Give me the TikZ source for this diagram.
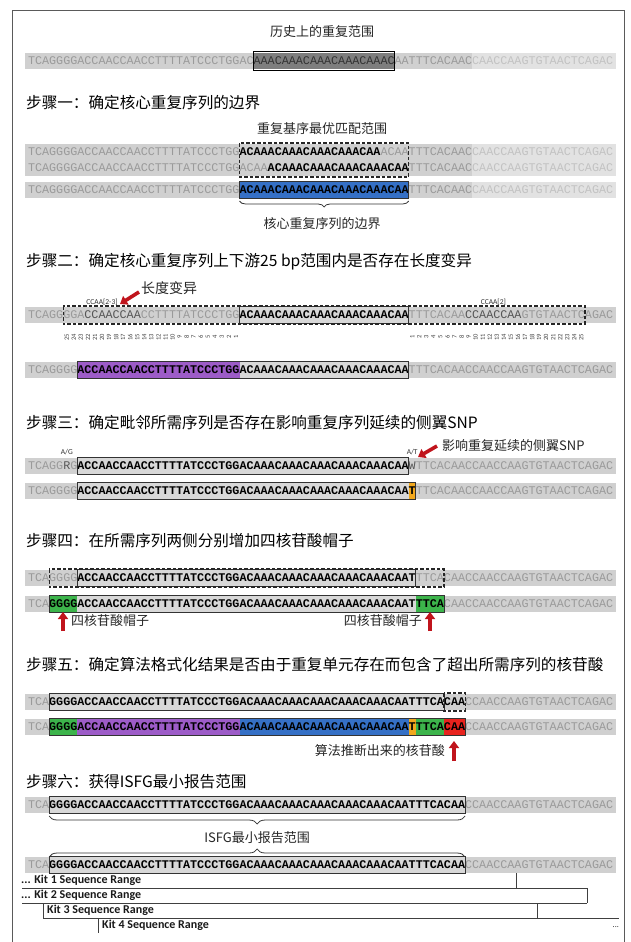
\documentclass[tikz,border=0pt]{standalone}
\usepackage{fontspec}
\setmainfont{Liberation Serif}
\newfontfamily\cjk{Noto Sans CJK SC}
\newfontfamily\mono{Liberation Mono}
\newfontfamily\kitf{Carlito}
\usetikzlibrary{decorations.pathreplacing,arrows.meta}
\definecolor{barcol}{HTML}{D0D0D0}
\definecolor{fadebar}{HTML}{E2E2E2}
\definecolor{greytxt}{HTML}{9A9A9A}
\definecolor{fadetxt}{HTML}{C2C2C2}
\definecolor{darktxt}{HTML}{555555}
\definecolor{boxfill}{HTML}{D8D8D8}
\definecolor{histfill}{HTML}{7E7E7E}
\definecolor{blu}{HTML}{3570C6}
\definecolor{pur}{HTML}{9D5CC8}
\definecolor{grn}{HTML}{3CB44B}
\definecolor{org}{HTML}{F2A81D}
\definecolor{rd}{HTML}{E8231E}
\definecolor{arrowred}{HTML}{C0141C}
\definecolor{framecol}{HTML}{5A5A5A}
\newcounter{nn}
% segment: [style]{y}{index}{text}
\newcommand{\sg}[4][]{\stepcounter{nn}\node[seq,#1] (n\thenn) at ({28+7.05*#3},{#2+3.9}) {#4};}
% fill: {colour}{y}{i}{j}
\newcommand{\fl}[4]{\fill[#1] ({28+7.05*#3},{#2-8}) rectangle ({28+7.05*#4},{#2+8});}
% box: [style]{y}{i}{j}
\newcommand{\bx}[4][]{\draw[boxline,#1] ({28+7.05*#3},{#2-8.5}) rectangle ({28+7.05*#4},{#2+8.5});}
\newcommand{\gbar}[1]{\fill[barcol] (25,{#1-8}) rectangle (616,{#1+8});}
\newcommand{\fbar}[1]{\fill[fadebar] ({28+7.05*63},{#1-8}) rectangle (616,{#1+8});}
\begin{document}
\begin{tikzpicture}[x=1pt,y=-1pt,
  seq/.style={inner sep=0pt,outer sep=0pt,anchor=base west,font={\mono\fontsize{11.75}{12}\selectfont},text=greytxt},
  g/.style={},
  f/.style={text=fadetxt},
  d/.style={text=darktxt},
  k/.style={text=black,font={\mono\bfseries\fontsize{11.75}{12}\selectfont}},
  hist/.style={text=black!80},
  boxline/.style={draw=black!80,line width=0.9pt},
  dbox/.style={draw=black!85,line width=1.1pt,dash pattern=on 3.5pt off 2pt},
  hd/.style={font={\cjk\fontsize{15.6}{16}\selectfont},anchor=west,inner sep=0pt},
  lb/.style={font={\cjk\fontsize{13}{14}\selectfont},inner sep=0pt,text=black!85},
  sm/.style={font={\kitf\fontsize{7.5}{8}\selectfont},inner sep=0pt,text=black!80},
  num/.style={font={\kitf\fontsize{6.5}{7}\selectfont},inner sep=0pt,text=black!75,rotate=90},
  redarrow/.style={draw=arrowred,line width=3.6pt,-{Triangle[length=7pt,width=10pt]}},
  kitline/.style={draw=black!75,line width=0.6pt},
  kit/.style={font={\kitf\bfseries\fontsize{12}{13}\selectfont},inner sep=0pt,anchor=west,text=black!90},
  brc/.style={draw=black!80,line width=0.8pt,decorate}
]
\useasboundingbox (0,0) rectangle (630,942);
\fill[white] (0,0) rectangle (630,942);
\draw[framecol,line width=1pt] (12,946) -- (12,11) -- (624,11) -- (624,946);

% ---------- historical range ----------
\node[lb] (t0) at (322,32) {历史上的重复范围};
\gbar{61}\fbar{61}
\fl{histfill}{61}{32}{52}
\sg[g]{61}{0}{TCAGGGGACCAACCAACCTTTTATCCCTGGAC}
\sg[hist]{61}{32}{AAACAAACAAACAAACAAAC}
\sg[g]{61}{52}{AATTTCACAAC}
\sg[f]{61}{63}{CAACCAAGTGTAACTCAGAC}
\draw[draw=black,line width=1.6pt] ({28+7.05*32},51.5) rectangle ({28+7.05*52},70.5);

% ---------- step 1 ----------
\node[hd] (h1) at (26,103) {步骤一：确定核心重复序列的边界};
\node[lb] (t1) at (322,129) {重复基序最优匹配范围};
\fill[barcol] (25,144) rectangle (616,176);
\fill[fadebar] ({28+7.05*63},144) rectangle (616,176);
\sg[g]{152}{0}{TCAGGGGACCAACCAACCTTTTATCCCTGG}
\sg[k]{152}{30}{ACAAACAAACAAACAAACAA}
\sg[g]{152}{50}{ACAATTTCACAAC}
\sg[f]{152}{63}{CAACCAAGTGTAACTCAGAC}
\sg[g]{168}{0}{TCAGGGGACCAACCAACCTTTTATCCCTGGACAA}
\sg[k]{168}{34}{ACAAACAAACAAACAAACAA}
\sg[g]{168}{54}{TTTCACAAC}
\sg[f]{168}{63}{CAACCAAGTGTAACTCAGAC}
\draw[dbox] ({28+7.05*30},143) rectangle ({28+7.05*54},177);
\gbar{190}\fbar{190}
\fl{blu}{190}{30}{54}
\sg[g]{190}{0}{TCAGGGGACCAACCAACCTTTTATCCCTGG}
\sg[k]{190}{30}{ACAAACAAACAAACAAACAAACAA}
\sg[g]{190}{54}{TTTCACAAC}
\sg[f]{190}{63}{CAACCAAGTGTAACTCAGAC}
\bx{190}{30}{54}
\draw[brc,decoration={brace,mirror,amplitude=6pt}] ({28+7.05*30},201) -- ({28+7.05*54},201);
\node[lb] (t2) at (322,224) {核心重复序列的边界};

% ---------- step 2 ----------
\node[hd] (h2) at (26,262) {步骤二：确定核心重复序列上下游25 bp范围内是否存在长度变异};
\node[lb,anchor=west,font={\cjk\fontsize{14}{15}\selectfont}] (t3) at (141,288) {长度变异};
\coordinate (a1s) at (139,292);
\coordinate (a1e) at (120,304);
\draw[redarrow] (a1s) -- (a1e);
\node[sm] (c1) at ({28+7.05*10.5},302) {CCAA[2-3]};
\node[sm] (c2) at ({28+7.05*66},302) {CCAA[2]};
\gbar{315}
\fl{boxfill}{315}{30}{54}
\sg[g]{315}{0}{TCAGGGGA}
\sg[d]{315}{8}{CCAACCAA}
\sg[g]{315}{16}{CCTTTTATCCCTGG}
\sg[k]{315}{30}{ACAAACAAACAAACAAACAAACAA}
\sg[g]{315}{54}{TTTCACAA}
\sg[d]{315}{62}{CCAACCAA}
\sg[g]{315}{70}{GTGTAACTCAGAC}
\bx{315}{30}{54}
\draw[dbox] ({28+7.05*5},306) rectangle ({28+7.05*79},324);
\foreach \i in {1,...,25}{
  \node[num] (l\i) at ({28+7.05*(30-\i)+3.5},337) {\i};
  \node[num] (r\i) at ({28+7.05*(53+\i)+3.5},337) {\i};
}
\gbar{370}
\fl{pur}{370}{7}{30}
\fl{boxfill}{370}{30}{54}
\sg[g]{370}{0}{TCAGGGG}
\sg[k]{370}{7}{ACCAACCAACCTTTTATCCCTGGACAAACAAACAAACAAACAAACAA}
\sg[g]{370}{54}{TTTCACAACCAACCAAGTGTAACTCAGAC}
\bx{370}{7}{54}

% ---------- step 3 ----------
\node[hd] (h3) at (26,423) {步骤三：确定毗邻所需序列是否存在影响重复序列延续的侧翼SNP};
\node[sm] (ag) at ({28+7.05*5+3.5},452) {A/G};
\node[sm] (at) at ({28+7.05*54+3.5},452) {A/T};
\node[lb,anchor=west] (t4) at (442,446) {影响重复延续的侧翼SNP};
\coordinate (a2s) at (437,446);
\coordinate (a2e) at (418,457);
\draw[redarrow] (a2s) -- (a2e);
\gbar{466}
\fl{boxfill}{466}{7}{54}
\sg[g]{466}{0}{TCAGG}
\sg[d]{466}{5}{R}
\sg[g]{466}{6}{G}
\sg[k]{466}{7}{ACCAACCAACCTTTTATCCCTGGACAAACAAACAAACAAACAAACAA}
\sg[d]{466}{54}{W}
\sg[g]{466}{55}{TTCACAACCAACCAAGTGTAACTCAGAC}
\bx{466}{7}{54}
\gbar{491}
\fl{boxfill}{491}{7}{54}
\fl{org}{491}{54}{55}
\sg[g]{491}{0}{TCAGGGG}
\sg[k]{491}{7}{ACCAACCAACCTTTTATCCCTGGACAAACAAACAAACAAACAAACAAT}
\sg[g]{491}{55}{TTCACAACCAACCAAGTGTAACTCAGAC}
\bx{491}{7}{55}

% ---------- step 4 ----------
\node[hd] (h4) at (26,541) {步骤四：在所需序列两侧分别增加四核苷酸帽子};
\gbar{578}
\fl{boxfill}{578}{7}{55}
\sg[g]{578}{0}{TCAGGGG}
\sg[k]{578}{7}{ACCAACCAACCTTTTATCCCTGGACAAACAAACAAACAAACAAACAAT}
\sg[g]{578}{55}{TTCACAACCAACCAAGTGTAACTCAGAC}
\bx{578}{7}{55}
\draw[dbox] ({28+7.05*3},569) rectangle ({28+7.05*59},587);
\gbar{604}
\fl{grn}{604}{3}{7}
\fl{boxfill}{604}{7}{55}
\fl{grn}{604}{55}{59}
\sg[g]{604}{0}{TCA}
\sg[k]{604}{3}{GGGGACCAACCAACCTTTTATCCCTGGACAAACAAACAAACAAACAAACAATTTCA}
\sg[g]{604}{59}{CAACCAACCAAGTGTAACTCAGAC}
\bx{604}{3}{59}
\coordinate (a3s) at (63,631);
\coordinate (a3e) at (63,612);
\draw[redarrow] (a3s) -- (a3e);
\node[lb,anchor=west] (t5) at (71,621) {四核苷酸帽子};
\coordinate (a4s) at (430,631);
\coordinate (a4e) at (430,612);
\draw[redarrow] (a4s) -- (a4e);
\node[lb,anchor=east] (t6) at (422,621) {四核苷酸帽子};

% ---------- step 5 ----------
\node[hd] (h5) at (26,665) {步骤五：确定算法格式化结果是否由于重复单元存在而包含了超出所需序列的核苷酸};
\gbar{702}
\fl{boxfill}{702}{3}{59}
\sg[g]{702}{0}{TCA}
\sg[k]{702}{3}{GGGGACCAACCAACCTTTTATCCCTGGACAAACAAACAAACAAACAAACAATTTCACAA}
\sg[g]{702}{62}{CCAACCAAGTGTAACTCAGAC}
\bx{702}{3}{59}
\draw[dbox] ({28+7.05*59},693) rectangle ({28+7.05*62},711);
\gbar{727}
\fl{grn}{727}{3}{7}
\fl{pur}{727}{7}{30}
\fl{blu}{727}{30}{54}
\fl{org}{727}{54}{55}
\fl{grn}{727}{55}{59}
\fl{rd}{727}{59}{62}
\sg[g]{727}{0}{TCA}
\sg[k]{727}{3}{GGGGACCAACCAACCTTTTATCCCTGGACAAACAAACAAACAAACAAACAATTTCACAA}
\sg[g]{727}{62}{CCAACCAAGTGTAACTCAGAC}
\bx{727}{3}{62}
\node[lb,anchor=east] (t7) at (445,751) {算法推断出来的核苷酸};
\coordinate (a5s) at (454,761);
\coordinate (a5e) at (454,741);
\draw[redarrow] (a5s) -- (a5e);

% ---------- step 6 ----------
\node[hd] (h6) at (26,782) {步骤六：获得ISFG最小报告范围};
\gbar{805}
\fl{boxfill}{805}{3}{62}
\sg[g]{805}{0}{TCA}
\sg[k]{805}{3}{GGGGACCAACCAACCTTTTATCCCTGGACAAACAAACAAACAAACAAACAATTTCACAA}
\sg[g]{805}{62}{CCAACCAAGTGTAACTCAGAC}
\bx{805}{3}{62}
\draw[brc,decoration={brace,mirror,amplitude=8pt}] ({28+7.05*3},816) -- ({28+7.05*62},816);
\node[lb] (t8) at ({28+7.05*32.5},838) {ISFG最小报告范围};
\draw[brc,decoration={brace,amplitude=8pt}] ({28+7.05*3},857) -- ({28+7.05*62},857);
\gbar{865}
\fl{boxfill}{865}{3}{62}
\sg[g]{865}{0}{TCA}
\sg[k]{865}{3}{GGGGACCAACCAACCTTTTATCCCTGGACAAACAAACAAACAAACAAACAATTTCACAA}
\sg[g]{865}{62}{CCAACCAAGTGTAACTCAGAC}
\bx{865}{3}{62}

% ---------- kits ----------
\node[kit] (k1) at (21,880.5) {... Kit 1 Sequence Range};
\node[kit] (k2) at (21,895.5) {... Kit 2 Sequence Range};
\node[kit] (k3) at (47,910.5) {Kit 3 Sequence Range};
\node[kit] (k4) at (102,925.5) {Kit 4 Sequence Range};
\node[kit,anchor=east,font={\kitf\fontsize{8}{9}\selectfont}] (k5) at (619,927) {...};
\draw[kitline] (516,873) -- (516,888);
\draw[kitline] (22,888) -- (587,888) -- (587,903);
\draw[kitline] (22,903) -- (587,903);
\draw[kitline] (43,903) -- (43,918);
\draw[kitline] (537,903) -- (537,918);
\draw[kitline] (43,918) -- (619,918);
\draw[kitline] (98,918) -- (98,933);
\end{tikzpicture}
\end{document}
